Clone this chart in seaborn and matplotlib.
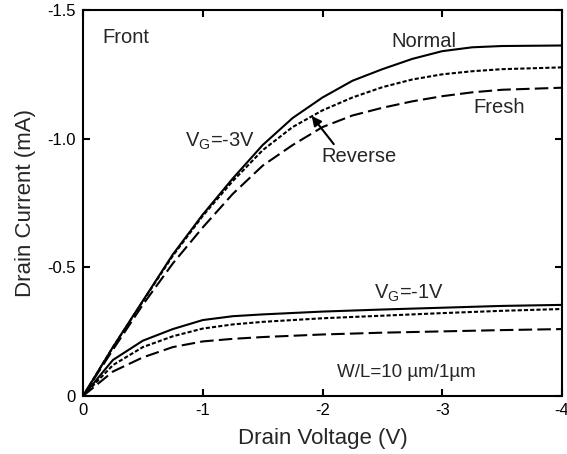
import matplotlib
matplotlib.use('Agg')
from matplotlib import pyplot as plt
import seaborn as sns
import pandas as pd

# drain voltage / current (V, mA)
v_g3 = [0, -0.25, -0.5, -0.75, -1.0, -1.25, -1.5, -1.75, -2.0, -2.25, -2.5, -2.75, -3.0, -3.25, -3.5, -4.0]
normal_g3 = [0, -0.19, -0.37, -0.55, -0.705, -0.845, -0.975, -1.08, -1.16, -1.225, -1.27, -1.31, -1.34, -1.355, -1.36, -1.362]
reverse_g3 = [0, -0.19, -0.368, -0.545, -0.70, -0.835, -0.955, -1.045, -1.11, -1.16, -1.20, -1.23, -1.25, -1.262, -1.27, -1.277]
fresh_g3 = [0, -0.18, -0.355, -0.515, -0.655, -0.785, -0.895, -0.975, -1.045, -1.09, -1.12, -1.145, -1.165, -1.18, -1.19, -1.198]

v_g1 = [0, -0.25, -0.5, -0.75, -1.0, -1.25, -1.5, -2.0, -2.5, -3.0, -3.5, -4.0]
normal_g1 = [0, -0.14, -0.215, -0.26, -0.295, -0.31, -0.317, -0.328, -0.336, -0.343, -0.35, -0.354]
reverse_g1 = [0, -0.12, -0.19, -0.232, -0.262, -0.278, -0.288, -0.302, -0.312, -0.322, -0.331, -0.338]
fresh_g1 = [0, -0.095, -0.15, -0.19, -0.212, -0.222, -0.229, -0.239, -0.246, -0.251, -0.256, -0.26]

x_ticks = [0, -1, -2, -3, -4]
x_labels = ['0', '-1', '-2', '-3', '-4']
y_ticks = [0, -0.5, -1.0, -1.5]
y_labels = ['0', '-0.5', '-1.0', '-1.5']

# build long table for seaborn
frames = []
for gate, v, series in [('-3V', v_g3, {'Normal': normal_g3, 'Reverse': reverse_g3, 'Fresh': fresh_g3}),
                        ('-1V', v_g1, {'Normal': normal_g1, 'Reverse': reverse_g1, 'Fresh': fresh_g1})]:
    for mode, vals in series.items():
        frames.append(pd.DataFrame({'V': v, 'I': vals, 'mode': mode, 'gate': gate}))
df = pd.concat(frames, ignore_index=True)

sns.set_style('ticks')
plt.rcParams['font.family'] = ['Liberation Sans', 'DejaVu Sans']
plt.rcParams['axes.unicode_minus'] = False

fig = plt.figure(figsize=(5.67, 4.54), dpi=100)
ax = fig.add_axes([0.1464, 0.1278, 0.8448, 0.8502])

sns.lineplot(data=df, x='V', y='I', style='mode', units='gate', estimator=None,
             sort=False, color='black', linewidth=1.5, legend=False, ax=ax,
             dashes={'Normal': '', 'Reverse': (2, 1), 'Fresh': (6.5, 2.5)})

ax.set_xlim(0, -4)
ax.set_ylim(0, -1.5)
ax.set_xticks(x_ticks)
ax.set_xticklabels(x_labels)
ax.set_yticks(y_ticks)
ax.set_yticklabels(y_labels)
ax.tick_params(direction='in', top=True, right=True, length=5, width=1.5,
               labelsize=12, pad=5, colors='black')
for s in ax.spines.values():
    s.set_linewidth(1.5)
    s.set_color('black')

ax.set_xlabel('Drain Voltage (V)', fontsize=16, labelpad=7)
ax.set_ylabel('Drain Current (mA)', fontsize=16, labelpad=8)

# annotations
ax.text(-0.16, -1.395, 'Front', fontsize=14.5, va='center', ha='left')
ax.text(-2.575, -1.376, 'Normal', fontsize=14.5, va='center', ha='left')
ax.text(-3.26, -1.123, 'Fresh', fontsize=14.5, va='center', ha='left')
ax.text(-0.85, -0.99, r'V$_\mathregular{G}$=-3V', fontsize=14.5, va='center', ha='left')
ax.text(-2.43, -0.40, r'V$_\mathregular{G}$=-1V', fontsize=14.5, va='center', ha='left')
ax.text(-2.125, -0.093, 'W/L=10 µm/1µm', fontsize=13.5, va='center', ha='left')
ax.annotate('Reverse', xy=(-1.91, -1.088), xytext=(-1.99, -0.929), fontsize=14.5,
            va='center', ha='left',
            arrowprops=dict(arrowstyle='-|>', color='black', lw=1.5, mutation_scale=14,
                            shrinkA=0, shrinkB=0, relpos=(0.2, 1.0)))

fig.savefig('out.png', dpi=100)
